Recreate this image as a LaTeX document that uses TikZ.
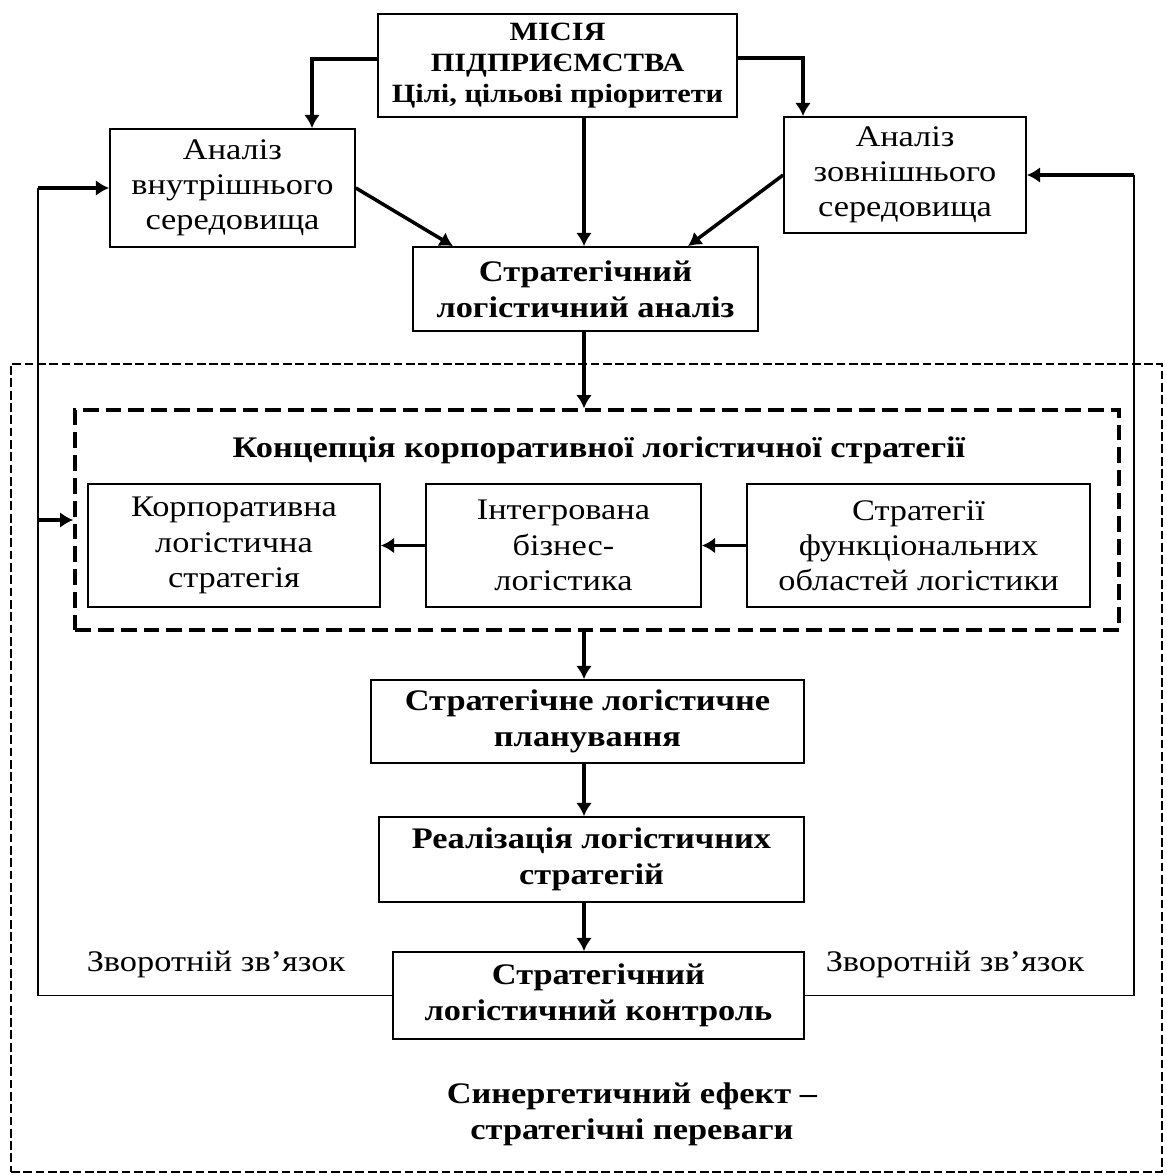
\documentclass[tikz,border=0pt]{standalone}
\usepackage{fontspec}
\setmainfont{Liberation Serif}[FakeStretch=1.15]
\usetikzlibrary{arrows.meta}

\begin{document}
\begin{tikzpicture}[
	blok/.style={draw, line width=1pt, align=center, inner sep=2pt, font=\fontsize{17}{20}\selectfont},
	bblok/.style={blok, font=\fontsize{17}{20.5}\selectfont\bfseries},
	strilka/.style={line width=2pt, -{Latex[length=7.5pt,width=9pt]}},
	zviazok/.style={line width=1pt}
]
\useasboundingbox (0,0) rectangle (23.32,-23.5);
% outer and inner frames
\node[draw, line width=0.7pt, dash pattern=on 5pt off 2pt, minimum width=23.02cm, minimum height=16.16cm] (efekt) at (11.73,-15.36) {};
\node[draw, line width=2pt, dash pattern=on 9pt off 4pt, minimum width=20.88cm, minimum height=4.4cm] (konc) at (11.94,-10.4) {};
\node[font=\fontsize{17}{20}\selectfont\bfseries] (konctxt) at (11.98,-9.0) {Концепція корпоративної логістичної стратегії};
% boxes
\node[bblok, font=\fontsize{15}{17.6}\selectfont\bfseries, minimum width=7.18cm, minimum height=2.06cm] (misiia) at (11.15,-1.31) {МІСІЯ\\ПІДПРИЄМСТВА\\Цілі, цільові пріоритети};
\node[blok, minimum width=4.9cm, minimum height=2.36cm] (vnutr) at (4.65,-3.76) {Аналіз\\внутрішнього\\середовища};
\node[blok, minimum width=4.84cm, minimum height=2.32cm] (zovn) at (18.1,-3.5) {Аналіз\\зовнішнього\\середовища};
\node[bblok, minimum width=6.9cm, minimum height=1.68cm] (analiz) at (11.71,-5.78) {Стратегічний\\логістичний аналіз};
\node[blok, minimum width=5.84cm, minimum height=2.46cm] (korp) at (4.68,-10.91) {Корпоративна\\логістична\\стратегія};
\node[blok, minimum width=5.5cm, minimum height=2.46cm] (integr) at (11.27,-10.91) {Інтегрована\\бізнес-\\логістика};
\node[blok, minimum width=6.86cm, minimum height=2.46cm] (funk) at (18.37,-10.91) {Стратегії\\функціональних\\областей логістики};
\node[bblok, minimum width=8.66cm, minimum height=1.66cm] (plan) at (11.75,-14.43) {Стратегічне логістичне\\планування};
\node[bblok, minimum width=8.5cm, minimum height=1.70cm] (real) at (11.83,-17.19) {Реалізація логістичних\\стратегій};
\node[bblok, minimum width=8.22cm, minimum height=1.74cm] (kontrol) at (11.97,-19.91) {Стратегічний\\логістичний контроль};
\node[font=\fontsize{17}{20}\selectfont] (zvl) at (4.32,-19.28) {Зворотній зв’язок};
\node[font=\fontsize{17}{20}\selectfont] (zvr) at (19.1,-19.28) {Зворотній зв’язок};
\node[align=center, font=\fontsize{17}{20.5}\selectfont\bfseries] (synerg) at (12.64,-22.28) {Синергетичний ефект –\\стратегічні переваги};
% bends
\coordinate (ml) at (6.24,-1.18);
\coordinate (mr) at (16.06,-1.16);
\coordinate (sa1) at (9.06,-4.94);
\coordinate (sa2) at (13.76,-4.94);
\coordinate (vert) at (11.68,0);
\coordinate (fbl) at (0.76,-19.76);
\coordinate (fbr) at (22.68,-19.76);
% arrows
\draw[strilka] (misiia.west |- ml) -- (ml) -- (ml |- vnutr.north);
\draw[strilka] (misiia.east |- mr) -- (mr) -- (mr |- zovn.north);
\draw[strilka] (vert |- misiia.south) -- (vert |- analiz.north);
\draw[strilka] (vnutr.east) -- (sa1 |- analiz.north);
\draw[strilka] (zovn.west) -- (sa2 |- analiz.north);
\draw[strilka] (vert |- analiz.south) -- (vert |- konc.north);
\draw[strilka] (integr.west |- korp.east) -- (korp.east);
\draw[strilka] (funk.west) -- (integr.east);
\draw[strilka] (vert |- konc.south) -- (vert |- plan.north);
\draw[strilka] (vert |- plan.south) -- (vert |- real.north);
\draw[strilka] (vert |- real.south) -- (vert |- kontrol.north);
% feedback
\draw[zviazok] (kontrol.west) -- (fbl |- kontrol.west) -- (fbl |- vnutr.west);
\draw[strilka] (fbl |- vnutr.west) -- (vnutr.west);
\draw[strilka] (fbl |- konc.west) -- (konc.west);
\draw[zviazok] (kontrol.east) -- (fbr |- kontrol.east) -- (fbr |- zovn.east);
\draw[strilka] (fbr |- zovn.east) -- (zovn.east);
\end{tikzpicture}
\end{document}
